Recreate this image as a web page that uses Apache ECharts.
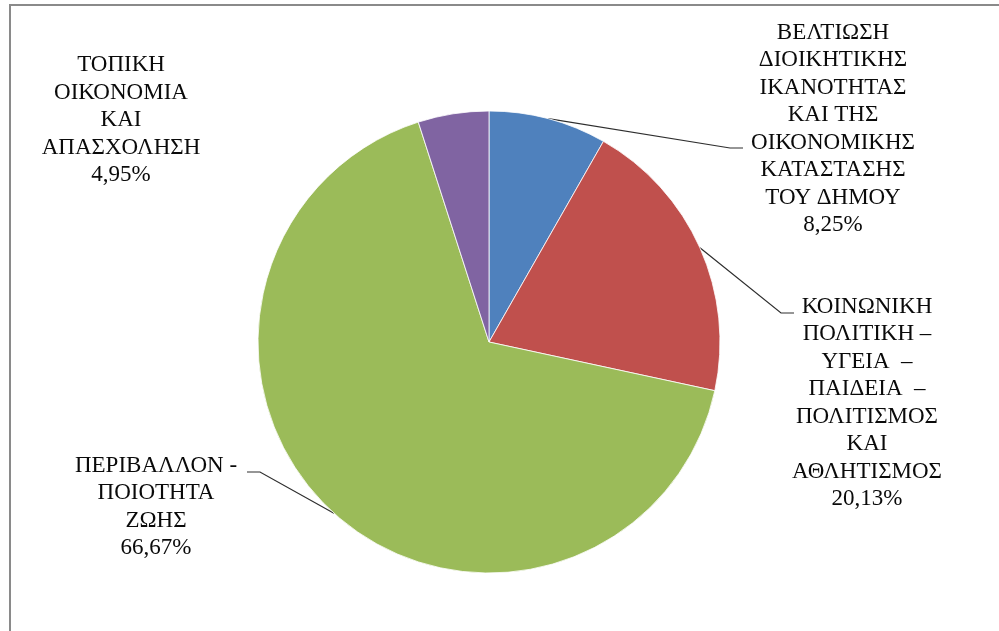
<!DOCTYPE html>
<html>
<head>
<meta charset="utf-8">
<script src="https://cdn.jsdelivr.net/npm/echarts@6/dist/echarts.min.js"></script>
<style>
  html, body { margin: 0; padding: 0; background: #fff; }
  #chart { width: 999px; height: 631px; }
</style>
</head>
<body>
<div id="chart"></div>
<script>
// Budget shares by policy axis (percent)
const categories = [
  'ΒΕΛΤΙΩΣΗ\nΔΙΟΙΚΗΤΙΚΗΣ\nΙΚΑΝΟΤΗΤΑΣ\nΚΑΙ ΤΗΣ\nΟΙΚΟΝΟΜΙΚΗΣ\nΚΑΤΑΣΤΑΣΗΣ\nΤΟΥ ΔΗΜΟΥ',
  'ΚΟΙΝΩΝΙΚΗ\nΠΟΛΙΤΙΚΗ –\nΥΓΕΙΑ  –\nΠΑΙΔΕΙΑ  –\nΠΟΛΙΤΙΣΜΟΣ\nΚΑΙ\nΑΘΛΗΤΙΣΜΟΣ',
  'ΠΕΡΙΒΑΛΛΟΝ -\nΠΟΙΟΤΗΤΑ\nΖΩΗΣ',
  'ΤΟΠΙΚΗ\nΟΙΚΟΝΟΜΙΑ\nΚΑΙ\nΑΠΑΣΧΟΛΗΣΗ'
];
const shares = [8.25, 20.13, 66.67, 4.95];
const sliceColors = ['#4F81BD', '#C0504D', '#9BBB59', '#8064A2'];
const showLeader = [true, true, true, false];

// Label block centres and leader elbows, per slice
const labelSpots = [
  { x: 833, y: 129, elbow: [[730, 148], [743, 148]] },
  { x: 867, y: 403, elbow: [[781, 313], [794, 313]] },
  { x: 156, y: 507, elbow: [[260, 472], [247, 472]] },
  { x: 121, y: 120, elbow: null }
];

const cx = 489, cy = 342, R = 231;

const chart = echarts.init(document.getElementById('chart'), null, { renderer: 'canvas' });

const data = categories.map((name, i) => ({
  name: name,
  value: shares[i],
  itemStyle: { color: sliceColors[i] },
  labelLine: { show: showLeader[i] }
}));

chart.setOption({
  backgroundColor: '#ffffff',
  animation: false,
  graphic: [{
    type: 'rect',
    shape: { x: 10, y: 5, width: 1010, height: 700 },
    style: { fill: 'none', stroke: '#8a8a8a', lineWidth: 2 },
    silent: true
  }],
  series: [{
    type: 'pie',
    center: [cx, cy],
    radius: [0, R],
    startAngle: 90,
    clockwise: true,
    avoidLabelOverlap: false,
    itemStyle: { borderColor: '#ffffff', borderWidth: 0.8 },
    label: {
      show: true,
      position: 'outside',
      fontFamily: '"Liberation Serif", "Times New Roman", serif',
      fontSize: 23,
      lineHeight: 27.5,
      color: '#0a0a0a',
      align: 'center',
      formatter: p => p.name + '\n' + p.value.toFixed(2).replace('.', ',') + '%'
    },
    labelLine: {
      show: true,
      length: 10,
      length2: 10,
      smooth: false,
      lineStyle: { color: '#2e2e2e', width: 1.2 }
    },
    labelLayout: function (params) {
      const spot = labelSpots[params.dataIndex];
      const out = { x: spot.x, y: spot.y, align: 'center', verticalAlign: 'middle' };
      if (spot.elbow) {
        const start = params.labelLinePoints && params.labelLinePoints[0];
        out.labelLinePoints = [start].concat(spot.elbow);
      }
      return out;
    },
    data: data
  }]
});
</script>
</body>
</html>
